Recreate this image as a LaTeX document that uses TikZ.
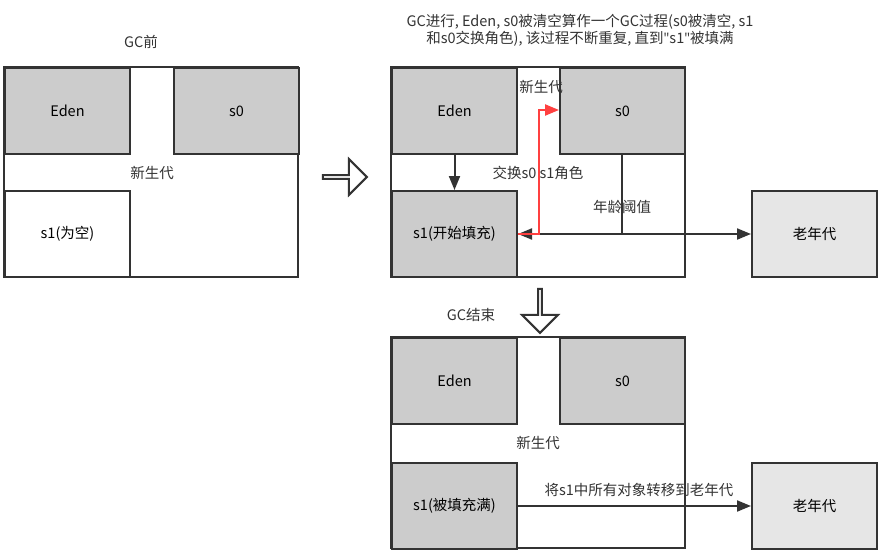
\documentclass[tikz,border=0pt]{standalone}
\usepackage{fontspec}
\setmainfont{Noto Sans CJK SC}
\newfontfamily\latq{Open Sans}
\usetikzlibrary{arrows.meta,shapes.arrows}
\definecolor{bx}{HTML}{CCCCCC}
\definecolor{og}{HTML}{E6E6E6}
\definecolor{ln}{HTML}{333333}
\begin{document}
\begin{tikzpicture}[x=1pt,y=-1pt,
  box/.style={draw=ln,line width=2pt,fill=bx,minimum width=125pt,minimum height=86pt,anchor=north west,font=\fontsize{14.5}{16}\selectfont,inner sep=0},
  oldbox/.style={box,fill=og},
  outer/.style={draw=ln,line width=2pt,fill=white},
  lbl/.style={font=\fontsize{14.5}{17}\selectfont,text=ln,inner sep=1pt},
  arr/.style={draw=ln,line width=2pt,-{Triangle[length=14pt,width=11pt]}},
  hollow/.style={single arrow,draw=ln,line width=2pt,fill=white,minimum height=44pt,single arrow head extend=9pt,minimum width=36pt,inner sep=0}]
\useasboundingbox (0,0) rectangle (895,557);
% left panel
\draw[outer] (4,67) rectangle (298,277);
\node[box] (e1) at (4,67) {Eden};
\node[box] (a1) at (173,67) {s0};
\node[box,fill=white] (b1) at (4,190) {s1(为空)};
\node[lbl] (n1) at (152,173) {新生代};
\node[lbl] (t1) at (141,42) {GC前};
\node[hollow] (h1) at (344,177) {};
% middle panel
\draw[outer] (391,67) rectangle (685,277);
\node[box] (e2) at (391,67) {Eden};
\node[box] (a2) at (559,67) {s0};
\node[box] (b2) at (391,190) {s1(开始填充)};
\node[oldbox] (o2) at (751,190) {老年代};
\node[lbl] (n2) at (541,87) {新生代};
\node[lbl] (x2) at (538,173) {交换s0 s1角色};
\node[lbl] (y2) at (622,207) {年龄阈值};
\node[lbl,align=center] (t2) at (580,30) {GC进行, Eden, s0被清空算作一个GC过程(s0被清空, s1\\和s0交换角色), 该过程不断重复, 直到{\latq\symbol{34}}s1{\latq\symbol{34}}被填满};
\draw[arr] (e2.south) -- (b2.north);
\draw[arr] (622,153) -- (622,234) -- (b2.east|-0,234);
\draw[arr] (b2.east|-0,234) -- (o2.west|-0,234);
\draw[draw=red!75,line width=2.2pt,-{Triangle[length=14pt,width=11pt]}] (b2.east|-0,234) -- (539,234) -- (539,110) -- (a2.west|-0,110);
\node[hollow,rotate=-90] (h2) at (540,310) {};
\node[lbl] (t3) at (471,315) {GC结束};
% bottom panel
\draw[outer] (391,337) rectangle (685,548);
\node[box] (e3) at (391,337) {Eden};
\node[box] (a3) at (559,337) {s0};
\node[box] (b3) at (391,462) {s1(被填充满)};
\node[oldbox] (o3) at (751,462) {老年代};
\node[lbl] (n3) at (538,443) {新生代};
\node[lbl] (z3) at (639,490) {将s1中所有对象转移到老年代};
\draw[arr] (b3.east) -- (o3.west);
\end{tikzpicture}
\end{document}
